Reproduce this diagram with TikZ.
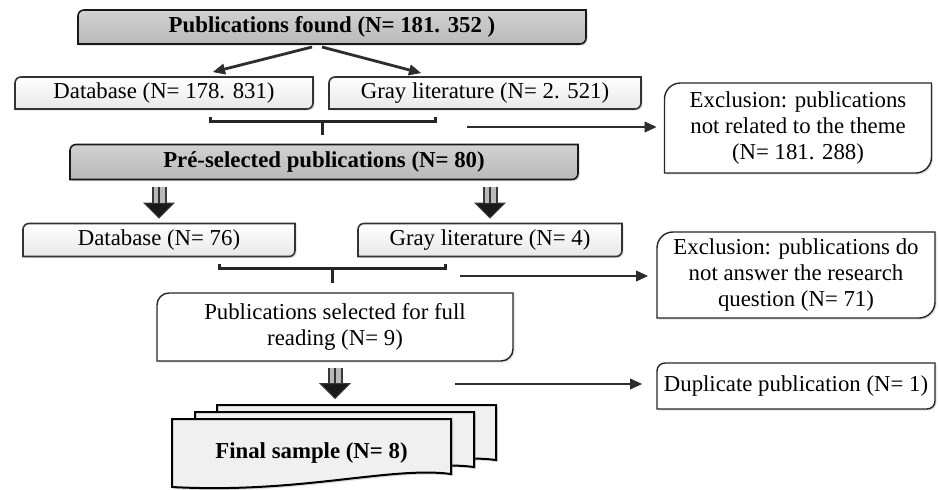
\documentclass[tikz,border=0pt]{standalone}
\usepackage{fontspec}
\setmainfont{Liberation Serif}
\usetikzlibrary{positioning,arrows.meta,calc,backgrounds,shadows}

\begin{document}
\begin{tikzpicture}[x=0.5pt,y=-0.5pt,
  font=\fontsize{11.4}{12.8}\selectfont,
  box/.style={inner sep=0pt,outer sep=0pt,align=center},
  darkbox/.style={draw=black!90,line width=0.8pt,top color=gray!36,bottom color=gray!55,
    drop shadow={opacity=0.3,shadow xshift=0.8pt,shadow yshift=-0.8pt}},
  lightbox/.style={draw=black!80,line width=0.8pt,top color=white,bottom color=gray!18,
    drop shadow={opacity=0.25,shadow xshift=0.8pt,shadow yshift=-0.8pt}},
  whitebox/.style={draw=black!85,line width=0.7pt,fill=white,
    drop shadow={opacity=0.25,shadow xshift=0.8pt,shadow yshift=-0.8pt}},
  link/.style={draw=gray!35!black,line width=1.4pt,-{Triangle[length=6pt,width=5.5pt,line width=0.4pt]}},
  brace/.style={draw=gray!30!black,line width=1.5pt},
  fat/.style={draw=gray!45!black,line width=7.5pt,shorten <=3.5pt,shorten >=#1,
    -{Triangle[length=8pt,width=16pt,line width=0.5pt,fill=gray!20!black]},
    postaction={draw=gray!55,line width=5.5pt,-,shorten >=#1+8pt},
    postaction={draw=gray!40!black,line width=0.8pt,-,shorten >=#1+8pt}},
  fat/.default=2.5pt,
  sheet/.style={draw=black,line width=1pt,fill=gray!12,
    drop shadow={opacity=0.3,shadow xshift=1pt,shadow yshift=-1pt}}]
  \useasboundingbox (0,0) rectangle (939,489);
  % first screening
  \node[box,minimum width=254pt,minimum height=17pt] (found) at (332,27) {\textbf{Publications found (N= 181. 352 )}};
  \node[box,minimum width=149pt,minimum height=16pt] (db1) at (164,93) {Database (N= 178. 831)};
  \node[box,minimum width=156pt,minimum height=16pt,right=8pt of db1] (gl1) {Gray literature (N= 2. 521)};
  \node[box,minimum width=133.5pt,minimum height=45pt] (excl1) at (798,128) {Exclusion: publications\\not related to the theme\\(N= 181. 288)};
  \node[box,minimum width=254pt,minimum height=17.5pt] (pre) at (324,162) {\textbf{Pré-selected publications (N= 80)}};
  % second screening
  \node[box,minimum width=136pt,minimum height=16.5pt] (db2) at (159,240) {Database (N= 76)};
  \node[box,minimum width=132pt,minimum height=16.5pt,right=31.5pt of db2] (gl2) {Gray literature (N= 4)};
  \node[box,minimum width=139pt,minimum height=43pt] (excl2) at (796,275) {Exclusion: publications do\\not answer the research\\question (N= 71)};
  \node[box,minimum width=178pt,minimum height=34pt] (sel) at (335,327) {Publications selected for full\\reading (N= 9)};
  \node[box,minimum width=139pt,minimum height=23pt] (dup) at (796,386) {Duplicate publication (N= 1)};
  \node[box,minimum width=139.5pt,minimum height=34pt] (final) at (311.5,453) {\textbf{Final sample (N= 8)}};

  \begin{scope}[on background layer]
    \foreach \n/\r/\s in {found/3pt/darkbox,pre/3pt/darkbox,db1/3pt/lightbox,gl1/3pt/lightbox,
      db2/3pt/lightbox,gl2/3pt/lightbox,excl1/8pt/whitebox,excl2/8pt/whitebox,sel/6pt/whitebox,dup/4pt/whitebox}
      \draw[\s] ([xshift=\r]\n.north west) -- (\n.north east) -- ([yshift=\r]\n.south east)
        arc[start angle=0,end angle=-90,radius=\r] -- (\n.south west) -- ([yshift=-\r]\n.north west)
        arc[start angle=180,end angle=90,radius=\r] -- cycle;
    % stacked sheets
    \foreach \dx/\dy in {45/-14,23/-7,0/0}
      \draw[sheet,shift={(\dx,\dy)}] (172,419) -- (451,419) -- (451,474)
        .. controls (390,466) and (300,494) .. (172,487) -- cycle;
  \end{scope}

  \draw[link] ($(found.south)+(-20,3)$) -- ($(db1.north)+(49,-5)$);
  \draw[link] ($(found.south)+(-10,3)$) -- ($(gl1.north)+(-64,-4)$);
  \coordinate (j1) at (322,121);
  \draw[brace] ($(j1)+(-112,-4)$) -- ++(0,4) -- ++(225,0) -- ++(0,-4);
  \draw[brace] (j1) -- ++(0,14);
  \coordinate (o1) at (467,127);
  \draw[link,shorten >=4pt] (o1) -- (o1 -| excl1.west);

  \draw[fat] (pre.south -| db2.north) -- (db2.north);
  \draw[fat] (pre.south -| gl2.north) -- (gl2.north);
  \coordinate (j2) at (332,268);
  \draw[brace] ($(j2)+(-113,-4)$) -- ++(0,4) -- ++(226,0) -- ++(0,-4);
  \draw[brace] (j2) -- ++(0,15);
  \coordinate (o2) at (460,276);
  \draw[link,shorten >=4.5pt] (o2) -- (o2 -| excl2.west);

  \draw[fat=10pt] (sel.south) -- (sel.south |- final.north);
  \coordinate (o3) at (455,384);
  \draw[link,shorten >=7.5pt] (o3) -- (o3 -| dup.west);
\end{tikzpicture}
\end{document}
